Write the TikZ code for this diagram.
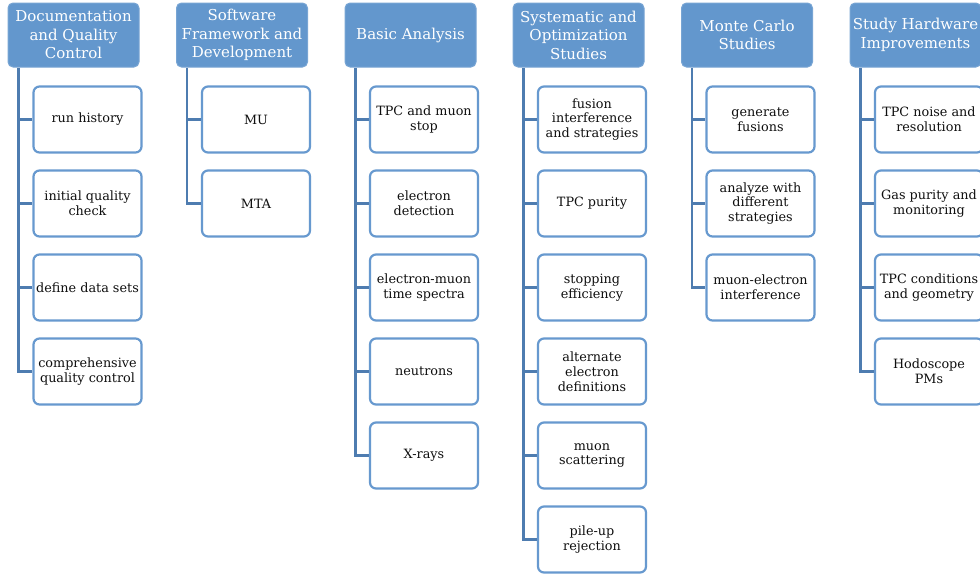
\documentclass[tikz,border=0pt]{standalone}
\usepackage{fontspec}
\setmainfont{DejaVu Serif}
\definecolor{hdrfill}{RGB}{99,151,205}
\definecolor{hdrline}{RGB}{120,165,212}
\definecolor{boxline}{RGB}{103,153,207}
\definecolor{connline}{RGB}{78,124,176}
\definecolor{txt}{RGB}{15,15,15}
\tikzset{
  hdr/.style={draw=hdrline, line width=1pt, fill=hdrfill, rounded corners=5pt,
    minimum width=131pt, minimum height=64pt, inner sep=1pt, align=center,
    text=white, font=\fontsize{15}{18.5}\selectfont},
  leaf/.style={draw=boxline, line width=2.2pt, fill=white, rounded corners=6pt,
    minimum width=108pt, minimum height=66pt, inner sep=1pt, align=center,
    text=txt, font=\fontsize{12.8}{14.8}\selectfont},
  conn/.style={draw=connline, line width=2.8pt}
}
\begin{document}
\begin{tikzpicture}[x=1pt,y=-1pt]
\clip (0,0) rectangle (980,574);
\fill[white] (0,0) rectangle (980,574);
% headers
\node[hdr] (h1) at (73.5,35) {Documentation\\and Quality\\Control};
\node[hdr] (h2) at (242,35) {Software\\Framework and\\Development};
\node[hdr] (h3) at (410.5,35) {Basic Analysis};
\node[hdr] (h4) at (578.5,35) {Systematic and\\Optimization\\Studies};
\node[hdr] (h5) at (747,35) {Monte Carlo\\Studies};
\node[hdr] (h6) at (915.5,35) {Study Hardware\\Improvements};
% column 1
\node[leaf] (c11) at (87.5,119.5) {run history};
\node[leaf] (c12) at (87.5,203.5) {initial quality\\check};
\node[leaf] (c13) at (87.5,287.5) {define data sets};
\node[leaf] (c14) at (87.5,371.5) {comprehensive\\quality control};
% column 2
\node[leaf] (c21) at (256,119.5) {MU};
\node[leaf] (c22) at (256,203.5) {MTA};
% column 3
\node[leaf] (c31) at (424,119.5) {TPC and muon\\stop};
\node[leaf] (c32) at (424,203.5) {electron\\detection};
\node[leaf] (c33) at (424,287.5) {electron-muon\\time spectra};
\node[leaf] (c34) at (424,371.5) {neutrons};
\node[leaf] (c35) at (424,455.5) {X-rays};
% column 4
\node[leaf] (c41) at (592,119.5) {fusion\\interference\\and strategies};
\node[leaf] (c42) at (592,203.5) {TPC purity};
\node[leaf] (c43) at (592,287.5) {stopping\\efficiency};
\node[leaf] (c44) at (592,371.5) {alternate\\electron\\definitions};
\node[leaf] (c45) at (592,455.5) {muon\\scattering};
\node[leaf] (c46) at (592,539.5) {pile-up\\rejection};
% column 5
\node[leaf] (c51) at (760.5,119.5) {generate\\fusions};
\node[leaf] (c52) at (760.5,203.5) {analyze with\\different\\strategies};
\node[leaf] (c53) at (760.5,287.5) {muon-electron\\interference};
% column 6
\node[leaf] (c61) at (929,119.5) {TPC noise and\\resolution};
\node[leaf] (c62) at (929,203.5) {Gas purity and\\monitoring};
\node[leaf] (c63) at (929,287.5) {TPC conditions\\and geometry};
\node[leaf] (c64) at (929,371.5) {Hodoscope\\PMs};
% connectors
\foreach \c in {c11,c12,c13,c14} \draw[conn] ([xshift=11pt,yshift=-0.5pt]h1.south west) |- (\c.west);
\foreach \c in {c21,c22} \draw[conn] ([xshift=11pt,yshift=-0.5pt]h2.south west) |- (\c.west);
\foreach \c in {c31,c32,c33,c34,c35} \draw[conn] ([xshift=11pt,yshift=-0.5pt]h3.south west) |- (\c.west);
\foreach \c in {c41,c42,c43,c44,c45,c46} \draw[conn] ([xshift=11pt,yshift=-0.5pt]h4.south west) |- (\c.west);
\foreach \c in {c51,c52,c53} \draw[conn] ([xshift=11pt,yshift=-0.5pt]h5.south west) |- (\c.west);
\foreach \c in {c61,c62,c63,c64} \draw[conn] ([xshift=11pt,yshift=-0.5pt]h6.south west) |- (\c.west);
\end{tikzpicture}
\end{document}
